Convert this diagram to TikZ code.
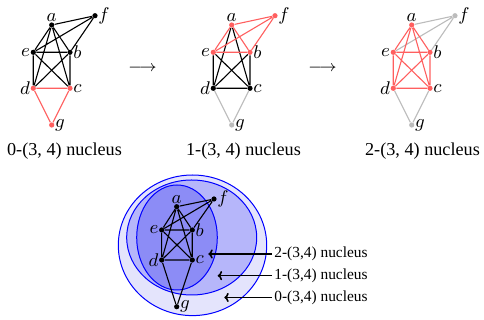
\RequirePackage{fix-cm}
\documentclass[tikz,border=0pt]{standalone}
\usepackage{fontspec}
\setmainfont{Liberation Serif}
\usepackage{tikz}
\usetikzlibrary{arrows.meta}
\definecolor{nucred}{RGB}{255, 95, 95}
\definecolor{nucgray}{RGB}{188, 188, 188}
\definecolor{fillzero}{RGB}{228, 228, 252}
\definecolor{fillone}{RGB}{182, 182, 250}
\definecolor{filltwo}{RGB}{140, 140, 246}
\tikzset{
    vtx/.style    ={circle, fill=black, inner sep=0pt, minimum size=2.6pt,
                    label distance=2.4pt},
    vtxr/.style   ={vtx, fill=nucred},
    vtxg/.style   ={vtx, fill=nucgray},
    ed/.style     ={line width=0.55pt, draw=black},
    edr/.style    ={ed, draw=nucred},
    edg/.style    ={ed, draw=nucgray},
    every label/.style={inner sep=0pt, font=\fontsize{9.2}{10}\selectfont},
    nucname/.style={inner sep=0pt, font=\fontsize{9.1}{11}\selectfont},
    goes/.style   ={inner sep=0pt, font=\fontsize{7.8}{9}\selectfont},
    ring/.style   ={draw=blue, line width=0.5pt},
    tag/.style    ={inner sep=1pt, anchor=west, font=\fontsize{7.7}{9}\selectfont},
    ptr/.style    ={-{To[length=2.2pt, width=4.6pt]}, line width=0.8pt}
}

\begin{document}
\begin{tikzpicture}[x=0.5pt, y=-0.5pt]
  \useasboundingbox (0,0) rectangle (484,320);

  % ---- 0-(3,4) nucleus
  \begin{scope}[name prefix=k0-]
    \node[vtx,  label=above:$a$] (a) at (51.7, 25.0) {};
    \node[vtx,  label=right:$f$] (f) at (95.0, 15.7) {};
    \node[vtx,  label=left:$e$]  (e) at (33.3, 52.3) {};
    \node[vtx,  label=right:$b$] (b) at (70.0, 52.3) {};
    \node[vtxr, label=left:$d$]  (d) at (33.3, 88.3) {};
    \node[vtxr, label=right:$c$] (c) at (70.0, 88.3) {};
    \node[vtxr, label=right:$g$] (g) at (51.7,125.0) {};
    \draw[ed]  (a) -- (f) (e) -- (f) (b) -- (f) (a) -- (e) (a) -- (b) (a) -- (d)
               (a) -- (c) (e) -- (b) (e) -- (d) (b) -- (c) (e) -- (c) (b) -- (d);
    \draw[edr] (d) -- (c) (d) -- (g) (c) -- (g);
  \end{scope}

  % ---- 1-(3,4) nucleus
  \begin{scope}[shift={(180,0)}, name prefix=k1-]
    \node[vtxr, label=above:$a$] (a) at (51.7, 25.0) {};
    \node[vtxr, label=right:$f$] (f) at (95.0, 15.7) {};
    \node[vtxr, label=left:$e$]  (e) at (33.3, 52.3) {};
    \node[vtxr, label=right:$b$] (b) at (70.0, 52.3) {};
    \node[vtx,  label=left:$d$]  (d) at (33.3, 88.3) {};
    \node[vtx,  label=right:$c$] (c) at (70.0, 88.3) {};
    \node[vtxg, label=right:$g$] (g) at (51.7,125.0) {};
    \draw[ed]  (a) -- (d) (a) -- (c) (e) -- (d) (b) -- (c) (e) -- (c) (b) -- (d)
               (d) -- (c);
    \draw[edr] (a) -- (f) (e) -- (f) (b) -- (f) (a) -- (e) (a) -- (b) (e) -- (b);
    \draw[edg] (d) -- (g) (c) -- (g);
  \end{scope}

  % ---- 2-(3,4) nucleus
  \begin{scope}[shift={(360,0)}, name prefix=k2-]
    \node[vtxr, label=above:$a$] (a) at (51.7, 25.0) {};
    \node[vtxg, label=right:$f$] (f) at (95.0, 15.7) {};
    \node[vtxr, label=left:$e$]  (e) at (33.3, 52.3) {};
    \node[vtxr, label=right:$b$] (b) at (70.0, 52.3) {};
    \node[vtxr, label=left:$d$]  (d) at (33.3, 88.3) {};
    \node[vtxr, label=right:$c$] (c) at (70.0, 88.3) {};
    \node[vtxg, label=right:$g$] (g) at (51.7,125.0) {};
    \draw[edg] (a) -- (f) (e) -- (f) (b) -- (f) (d) -- (g) (c) -- (g);
    \draw[edr] (a) -- (e) (a) -- (b) (a) -- (d) (a) -- (c) (e) -- (b) (e) -- (d)
               (b) -- (c) (e) -- (c) (b) -- (d) (d) -- (c);
  \end{scope}

  % ---- arrows and names
  \node[goes] (go1) at (142.5, 69) {$\longrightarrow$};
  \node[goes] (go2) at (322.5, 69) {$\longrightarrow$};
  \node[nucname] (nm0) at ( 64.5, 151) {0-(3, 4) nucleus};
  \node[nucname] (nm1) at (243.5, 151) {1-(3, 4) nucleus};
  \node[nucname] (nm2) at (422.5, 151) {2-(3, 4) nucleus};

  % ---- nested nuclei
  \filldraw[ring, fill=fillzero] (192.5, 245.3) ellipse [x radius=74.2, y radius=70.3];
  \filldraw[ring, fill=fillone]  (191.7, 237.5) ellipse [x radius=65.0, y radius=57.5];
  \filldraw[ring, fill=filltwo]  (177.0, 237.5) ellipse [x radius=40.3, y radius=52.5];

  \begin{scope}[name prefix=nb-]
    \node[vtx, label=above:$a$] (a) at (176.7, 206.7) {};
    \node[vtx, label=right:$f$] (f) at (214.0, 199.0) {};
    \node[vtx, label=left:$e$]  (e) at (161.7, 230.0) {};
    \node[vtx, label=right:$b$] (b) at (192.3, 230.0) {};
    \node[vtx, label=left:$d$]  (d) at (161.7, 260.0) {};
    \node[vtx, label=right:$c$] (c) at (192.3, 260.0) {};
    \node[vtx, label=right:$g$] (g) at (176.7, 306.7) {};
    \draw[ed] (a) -- (f) (e) -- (f) (b) -- (f) (a) -- (e) (a) -- (b) (a) -- (d)
              (a) -- (c) (e) -- (b) (e) -- (d) (b) -- (c) (e) -- (c) (b) -- (d)
              (d) -- (c) (d) -- (g) (c) -- (g);
  \end{scope}

  % ---- pointers to the rings
  \node[tag] (t2) at (272, 254.0) {2-(3,4) nucleus};
  \node[tag] (t1) at (272, 275.7) {1-(3,4) nucleus};
  \node[tag] (t0) at (272, 297.5) {0-(3,4) nucleus};
  \coordinate (p2) at (208.3, 254.0);
  \coordinate (p1) at (217.7, 275.7);
  \coordinate (p0) at (224.3, 297.5);
  \draw[ptr] (t2.west) -- (p2);
  \draw[ptr] (t1.west) -- (p1);
  \draw[ptr] (t0.west) -- (p0);
\end{tikzpicture}
\end{document}
